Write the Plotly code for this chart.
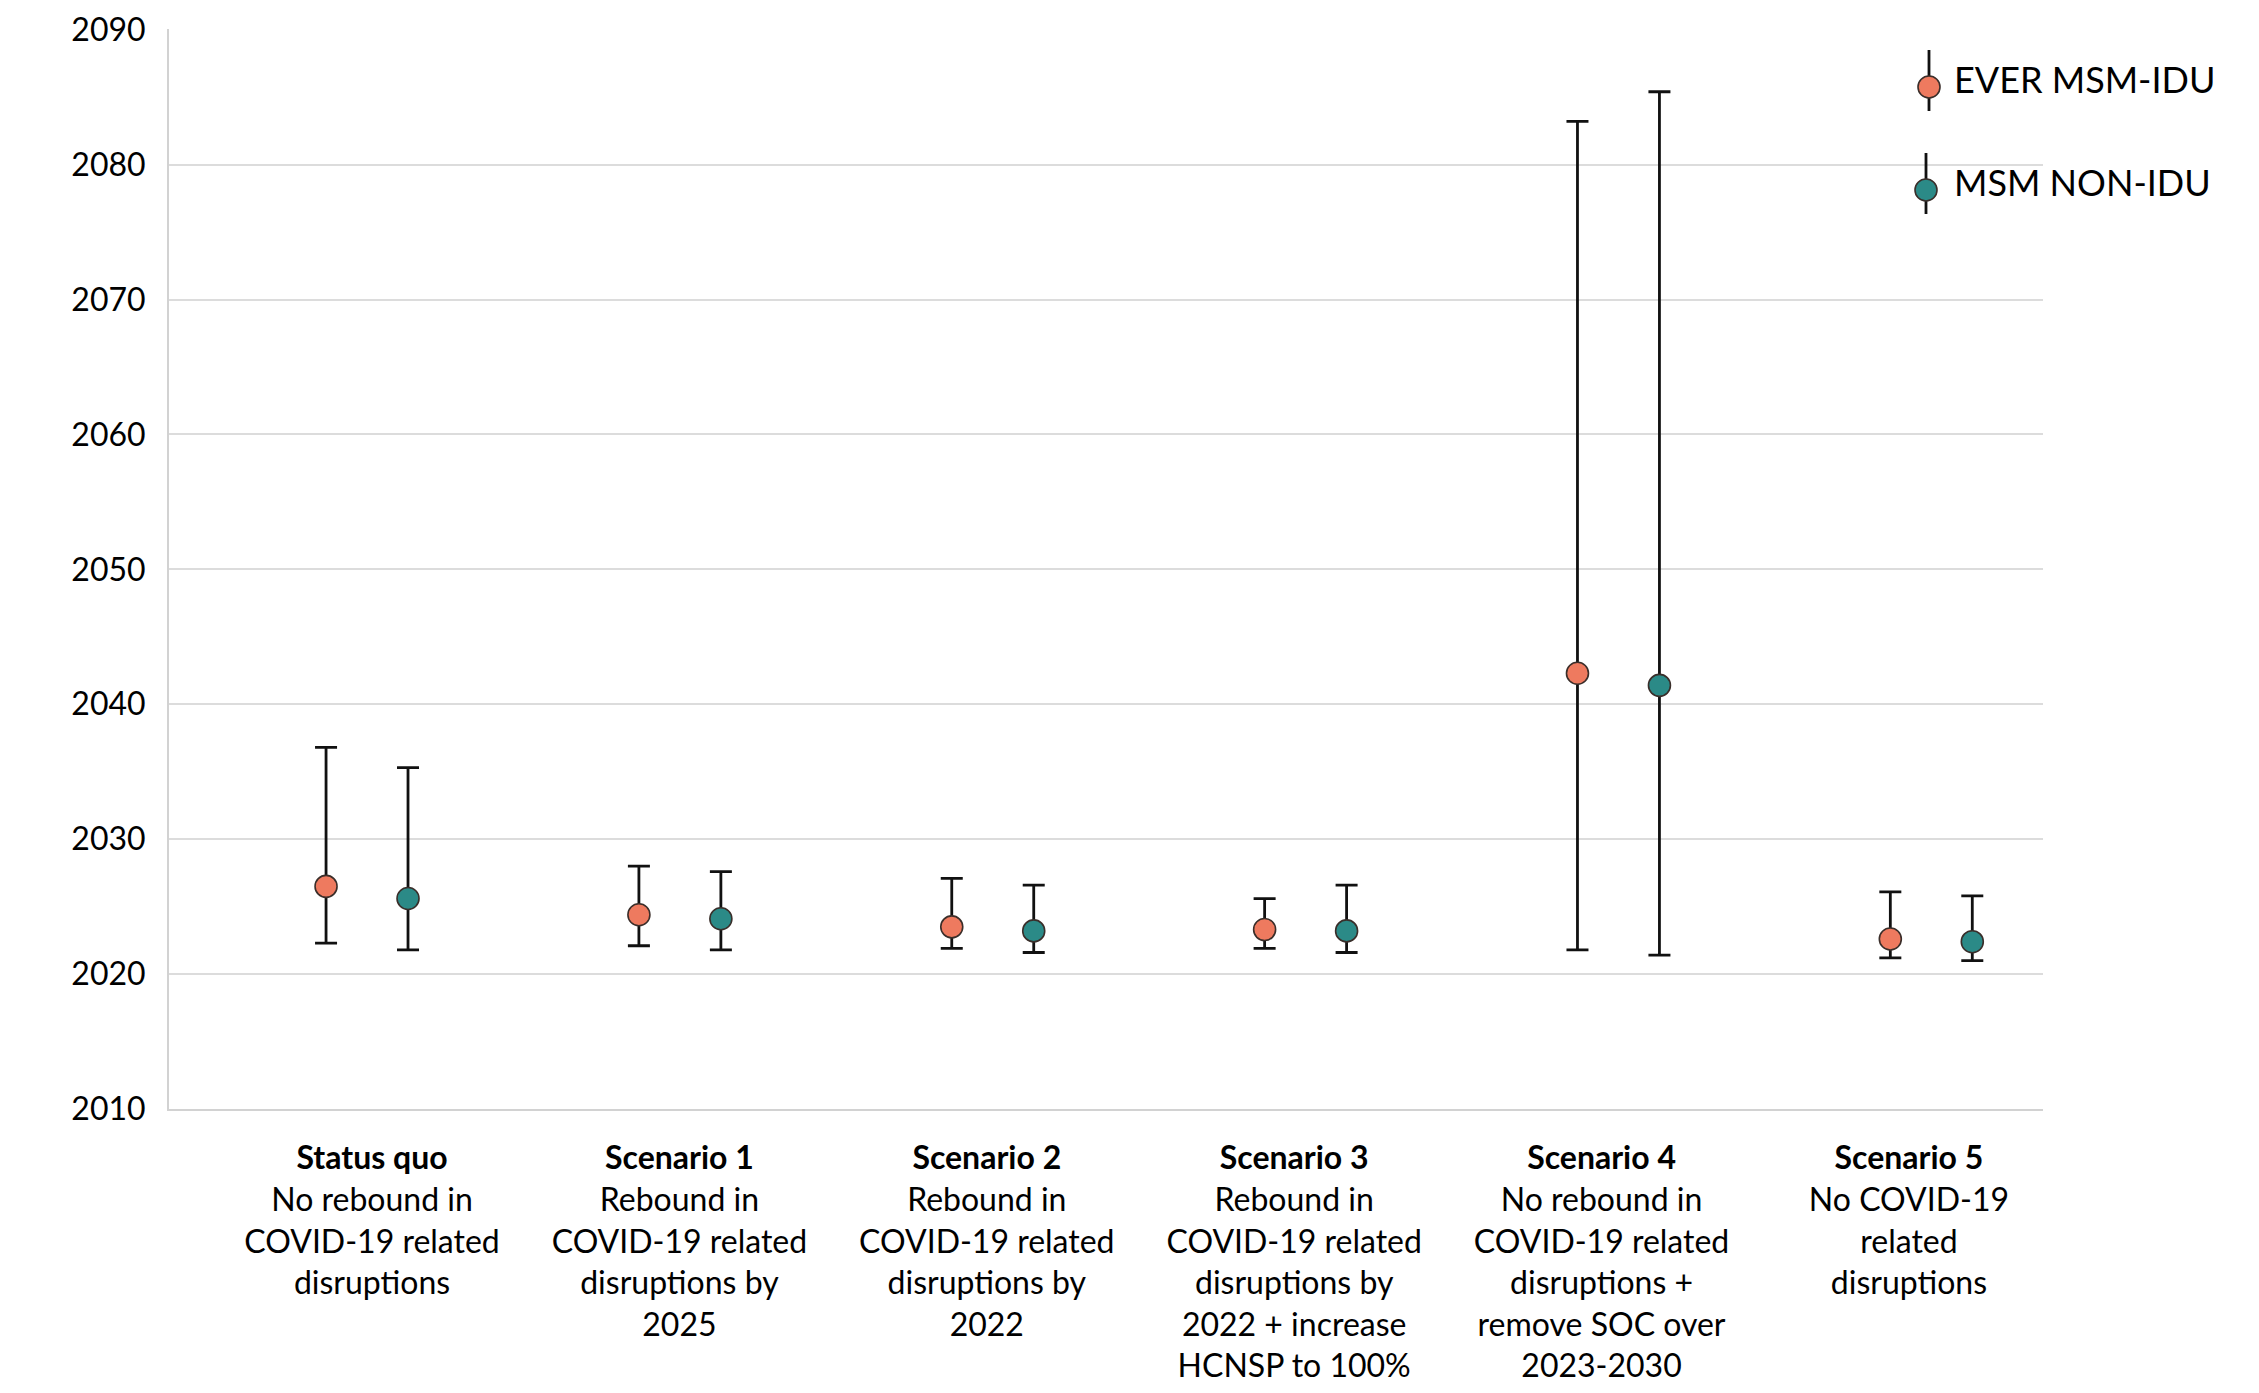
import plotly.graph_objects as go

categories = [
    "<b>Status quo</b><br>No rebound in<br>COVID-19 related<br>disruptions",
    "<b>Scenario 1</b><br>Rebound in<br>COVID-19 related<br>disruptions by<br>2025",
    "<b>Scenario 2</b><br>Rebound in<br>COVID-19 related<br>disruptions by<br>2022",
    "<b>Scenario 3</b><br>Rebound in<br>COVID-19 related<br>disruptions by<br>2022 + increase<br>HCNSP to 100%",
    "<b>Scenario 4</b><br>No rebound in<br>COVID-19 related<br>disruptions +<br>remove SOC over<br>2023-2030",
    "<b>Scenario 5</b><br>No COVID-19<br>related<br>disruptions",
]

series_names = ["EVER MSM-IDU", "MSM NON-IDU"]

ever_mid = [2026.5, 2024.4, 2023.5, 2023.3, 2042.3, 2022.6]
ever_hi = [2036.8, 2028.0, 2027.1, 2025.6, 2083.2, 2026.1]
ever_lo = [2022.3, 2022.1, 2021.9, 2021.9, 2021.8, 2021.2]

non_mid = [2025.6, 2024.1, 2023.2, 2023.2, 2041.4, 2022.4]
non_hi = [2035.3, 2027.6, 2026.6, 2026.6, 2085.4, 2025.8]
non_lo = [2021.8, 2021.8, 2021.6, 2021.6, 2021.4, 2021.0]

y_ticks = [2010, 2020, 2030, 2040, 2050, 2060, 2070, 2080, 2090]

COLORS = ["#EE7A5F", "#2B8A87"]
FONT = "Lato, 'Open Sans', sans-serif"

idx = list(range(len(categories)))
off = 0.131

# page has an 8px body margin; size figure so the plot sits where it should
W, H = 2251, 1385
ML, MR, MT, MB = 161, 216, 21, 284
PW, PH = W - ML - MR, H - MT - MB

fig = go.Figure()

def add_series(name, mid, hi, lo, color, shift):
    fig.add_trace(go.Scatter(
        x=[i + shift for i in idx],
        y=mid,
        mode="markers",
        name=name,
        showlegend=False,
        marker=dict(size=22, color=color, line=dict(color="#3a2e2a", width=1.6)),
        error_y=dict(
            type="data",
            symmetric=False,
            array=[h - m for h, m in zip(hi, mid)],
            arrayminus=[m - l for m, l in zip(mid, lo)],
            color="#111111",
            thickness=2.8,
            width=11,
        ),
    ))

add_series(series_names[0], ever_mid, ever_hi, ever_lo, COLORS[0], -off)
add_series(series_names[1], non_mid, non_hi, non_lo, COLORS[1], off)

# legend (marker with vertical line + label) drawn on a hidden pixel-unit overlay axis
leg_x = [1760, 1757]
leg_y = [58, 161]
for k, name in enumerate(series_names):
    fig.add_trace(go.Scatter(
        x=[leg_x[k]], y=[leg_y[k]],
        xaxis="x2", yaxis="y2",
        mode="markers",
        cliponaxis=False,
        showlegend=False,
        hoverinfo="skip",
        marker=dict(size=22, color=COLORS[k], line=dict(color="#3a2e2a", width=1.6)),
        error_y=dict(type="data", symmetric=False, array=[24], arrayminus=[37],
                     color="#111111", thickness=2.8, width=0),
    ))
    fig.add_trace(go.Scatter(
        x=[1785], y=[leg_y[k] - 3],
        xaxis="x2", yaxis="y2",
        mode="text",
        text=[name],
        textposition="middle right",
        textfont=dict(family=FONT, size=36, color="black"),
        cliponaxis=False,
        showlegend=False,
        hoverinfo="skip",
    ))

fig.update_layout(
    width=W,
    height=H,
    margin=dict(l=ML, r=MR, t=MT, b=MB, autoexpand=False),
    paper_bgcolor="white",
    plot_bgcolor="white",
    font=dict(family=FONT, size=31, color="black"),
    showlegend=False,
    xaxis=dict(
        range=[-0.633, 5.357],
        tickmode="array",
        tickvals=[i * 0.9825 + 0.016 for i in idx],
        ticktext=categories,
        showgrid=False,
        zeroline=False,
        showline=True,
        linecolor="#d2d2d2",
        linewidth=2,
        ticks="",
        automargin=False,
        ticklabelstandoff=20,
        tickfont=dict(family=FONT, size=32, color="black"),
    ),
    yaxis=dict(
        range=[2010, 2090.05],
        tickmode="array",
        tickvals=y_ticks,
        ticktext=[str(v) for v in y_ticks],
        showgrid=True,
        gridcolor="#dcdcdc",
        gridwidth=2,
        zeroline=False,
        showline=True,
        linecolor="#d2d2d2",
        linewidth=2,
        ticks="",
        automargin=False,
        ticklabelstandoff=15,
        tickfont=dict(family=FONT, size=32, color="black"),
    ),
    xaxis2=dict(overlaying="x", anchor="y2", range=[0, PW], visible=False, fixedrange=True),
    yaxis2=dict(overlaying="y", anchor="x2", range=[PH, 0], visible=False, fixedrange=True),
)

fig.write_html("out.html")
